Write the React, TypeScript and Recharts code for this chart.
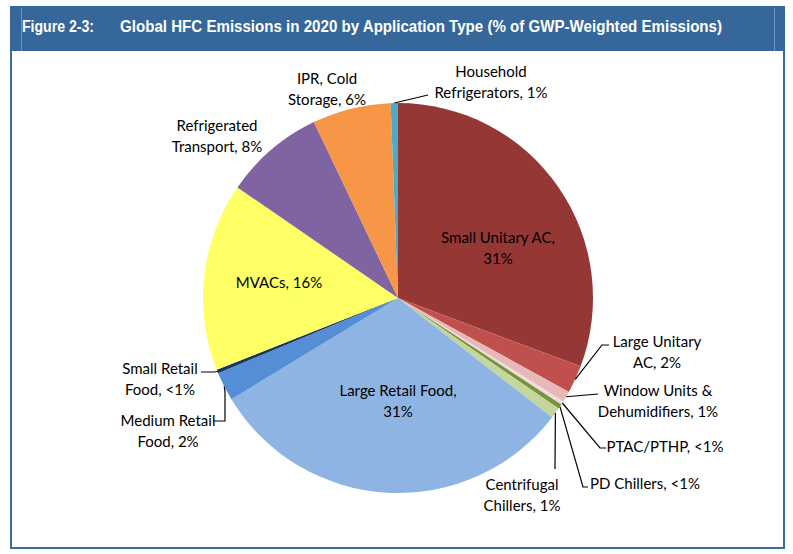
import React from 'react'
import { PieChart, Pie, Cell } from 'recharts'

// values in % of GWP-weighted emissions, clockwise from 12 o'clock
const categories = [
  'Small Unitary AC',
  'Large Unitary AC',
  'Window Units & Dehumidifiers',
  'PTAC/PTHP',
  'PD Chillers',
  'Centrifugal Chillers',
  'Large Retail Food',
  'Medium Retail Food',
  'Small Retail Food',
  'MVACs',
  'Refrigerated Transport',
  'IPR, Cold Storage',
  'Household Refrigerators',
]
const shares = [30.7, 2.3, 0.9, 0.3, 0.4, 0.9, 30.8, 2.4, 0.3, 15.6, 8.3, 6.5, 0.6]
const labelTexts = [
  'Small Unitary AC,\n31%',
  'Large Unitary\nAC, 2%',
  'Window Units &\nDehumidifiers, 1%',
  'PTAC/PTHP, <1%',
  'PD Chillers, <1%',
  'Centrifugal\nChillers, 1%',
  'Large Retail Food,\n31%',
  'Medium Retail\nFood, 2%',
  'Small Retail\nFood, <1%',
  'MVACs, 16%',
  'Refrigerated\nTransport, 8%',
  'IPR, Cold\nStorage, 6%',
  'Household\nRefrigerators, 1%',
]
const colors = [
  '#953735', '#C0504D', '#E6B9B8', '#F2DCDB', '#77933C', '#C3D69B',
  '#8EB4E3', '#558ED5', '#17375E', '#FFFF66', '#8064A2', '#F79646', '#4BACC6',
]

// label placement (text centre, first line) and leader line bends
const labelLayout: { x: number; y: number; leader?: [number, number][] }[] = [
  { x: 498, y: 237 },
  { x: 657, y: 341, leader: [[602, 345], [609, 345]] },
  { x: 658, y: 390, leader: [[598, 394]] },
  { x: 665, y: 446, leader: [[600, 448], [606, 448]] },
  { x: 645, y: 483, leader: [[583, 487], [588, 487]] },
  { x: 522, y: 484, leader: [[555, 469]] },
  { x: 398, y: 390 },
  { x: 168, y: 420, leader: [[225, 392], [225, 421], [213, 421]] },
  { x: 160, y: 368, leader: [[214, 372], [201, 372]] },
  { x: 279, y: 282 },
  { x: 217, y: 125 },
  { x: 327, y: 78 },
  { x: 491, y: 71, leader: [[428, 95]] },
]

const data = categories.map((name, i) => ({ name, value: shares[i] }))

const FONT = "Lato, 'Open Sans', sans-serif"
const RAD = Math.PI / 180

function renderLabel(props: any) {
  const { cx, cy, midAngle, outerRadius, index } = props
  const lay = labelLayout[index]
  const lines = labelTexts[index].split('\n')
  let path: React.ReactNode = null
  if (lay.leader) {
    const sx = cx + outerRadius * Math.cos(-midAngle * RAD)
    const sy = cy + outerRadius * Math.sin(-midAngle * RAD)
    const pts = [[sx, sy], ...lay.leader].map((p) => p.join(',')).join(' ')
    path = <polyline points={pts} fill="none" stroke="#000" strokeWidth={1.2} />
  }
  return (
    <g key={`lbl-${index}`}>
      {path}
      <text
        x={lay.x}
        y={lay.y}
        textAnchor="middle"
        dominantBaseline="central"
        fontFamily={FONT}
        fontSize={15}
        fill="#000"
      >
        {lines.map((l, k) => (
          <tspan key={k} x={lay.x} dy={k === 0 ? 0 : 21}>
            {l}
          </tspan>
        ))}
      </text>
    </g>
  )
}

export default function App() {
  return (
    <div style={{ position: 'absolute', left: 0, top: 0, width: 793, height: 554, background: '#fff' }}>
      <div
        style={{
          position: 'absolute',
          left: 10,
          top: 6,
          width: 775,
          height: 45,
          background: '#35679B',
        }}
      >
        <svg width={775} height={45} style={{ display: 'block' }}>
          <line x1={11.5} y1={2} x2={11.5} y2={45} stroke="#6F94BE" strokeWidth={1} />
          <line x1={764.5} y1={2} x2={764.5} y2={45} stroke="#6F94BE" strokeWidth={1} />
          <text x={12} y={26} fill="#fff" fontFamily="'Liberation Sans', Arial, sans-serif" fontWeight="bold" fontSize={16} textLength={72} lengthAdjust="spacingAndGlyphs">
            Figure 2-3:
          </text>
          <text x={110} y={26} fill="#fff" fontFamily="'Liberation Sans', Arial, sans-serif" fontWeight="bold" fontSize={16} textLength={602} lengthAdjust="spacingAndGlyphs">
            Global HFC Emissions in 2020 by Application Type (% of GWP-Weighted Emissions)
          </text>
        </svg>
      </div>
      <div
        style={{
          position: 'absolute',
          left: 10,
          top: 51,
          width: 771,
          height: 496,
          borderLeft: '2px solid #3A6BA5',
          borderRight: '2px solid #3A6BA5',
          borderBottom: '2.5px solid #3A6BA5',
        }}
      />
      <div style={{ position: 'absolute', left: 0, top: 0 }}>
        <PieChart width={793} height={554}>
          <Pie
            data={data}
            dataKey="value"
            nameKey="name"
            cx={393}
            cy={293}
            outerRadius={195}
            startAngle={90}
            endAngle={-270}
            stroke="none"
            label={renderLabel}
            labelLine={false}
            isAnimationActive={false}
          >
            {data.map((d, i) => (
              <Cell key={d.name} fill={colors[i]} stroke="none" />
            ))}
          </Pie>
        </PieChart>
      </div>
    </div>
  )
}
